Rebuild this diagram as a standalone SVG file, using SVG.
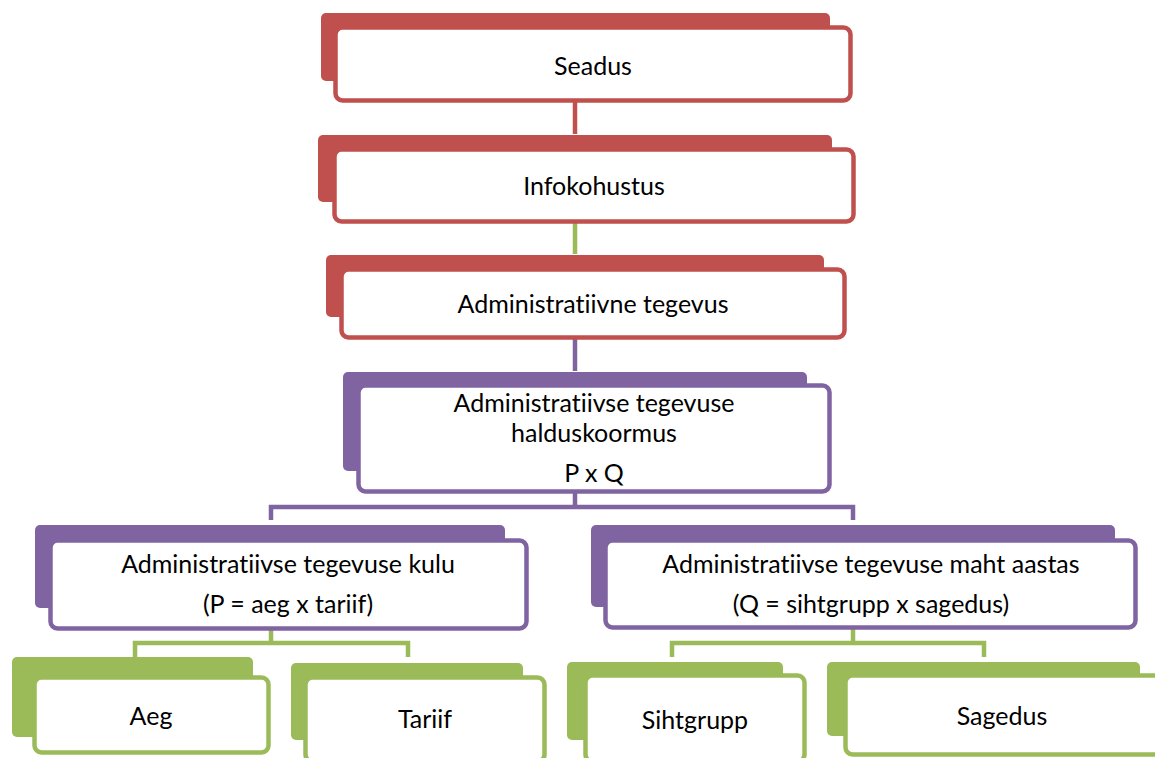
<svg xmlns="http://www.w3.org/2000/svg" width="1155" height="758" viewBox="0 0 1155 758">
<style>
  .bg { stroke: none; }
  .fr { fill: #FFFFFF; stroke-width: 4.5; }
  .red .bg { fill: #C0504D; } .red .fr { stroke: #C0504D; }
  .pur .bg { fill: #8064A2; } .pur .fr { stroke: #8064A2; }
  .grn .bg { fill: #9BBB59; } .grn .fr { stroke: #9BBB59; }
  text { font-family: Lato, "Open Sans", "Liberation Sans", sans-serif; font-size: 25px; fill: #000000; text-anchor: middle; font-variant-ligatures: none; font-feature-settings: "liga" 0, "clig" 0; }
  .c { fill: none; stroke-width: 4.5; stroke-linejoin: miter; stroke-linecap: butt; }
  .cr { stroke: #C0504D; } .cp { stroke: #8064A2; } .cg { stroke: #9BBB59; }
</style>
<rect width="1155" height="758" fill="#FFFFFF"/>
<g id="connectors">
  <path class="c cr" d="M575,102 V134"/>
  <path class="c cg" d="M575,223 V254"/>
  <path class="c cp" d="M575,339 V371"/>
  <path class="c cp" d="M575,493 V507 M271,520 V507 H853 V520"/>
  <path class="c cg" d="M271,630 V643 M135,657 V643 H408 V657"/>
  <path class="c cg" d="M853,629 V643 M672,657 V643 H984 V657"/>
</g>
<g id="node-seadus" class="red">
  <rect class="bg" x="321" y="13" width="509" height="68" rx="5"/>
  <rect class="fr" x="335.5" y="27.5" width="515" height="73" rx="7"/>
  <text x="593" y="75">Seadus</text>
</g>
<g id="node-infokohustus" class="red">
  <rect class="bg" x="318" y="135" width="514" height="67" rx="5"/>
  <rect class="fr" x="334.5" y="149.5" width="519" height="72" rx="7"/>
  <text x="594" y="195">Infokohustus</text>
</g>
<g id="node-admin-tegevus" class="red">
  <rect class="bg" x="326" y="255" width="498" height="62" rx="5"/>
  <rect class="fr" x="341.5" y="269.5" width="503" height="68" rx="7"/>
  <text x="593" y="313">Administratiivne tegevus</text>
</g>
<g id="node-halduskoormus" class="pur">
  <rect class="bg" x="343" y="372" width="464" height="99" rx="5"/>
  <rect class="fr" x="358.5" y="385.5" width="471" height="106" rx="7"/>
  <text x="594" y="412">Administratiivse tegevuse</text>
  <text x="594" y="442">halduskoormus</text>
  <text x="594" y="482">P x Q</text>
</g>
<g id="node-kulu" class="pur">
  <rect class="bg" x="35" y="525" width="470" height="83" rx="5"/>
  <rect class="fr" x="50.5" y="540.5" width="476" height="88" rx="7"/>
  <text x="288" y="573">Administratiivse tegevuse kulu</text>
  <text x="288" y="613">(P = aeg x tariif)</text>
</g>
<g id="node-maht" class="pur">
  <rect class="bg" x="591" y="525" width="524" height="82" rx="5"/>
  <rect class="fr" x="605.5" y="540.5" width="530" height="87" rx="7"/>
  <text x="871" y="573">Administratiivse tegevuse maht aastas</text>
  <text x="871" y="613">(Q = sihtgrupp x sagedus)</text>
</g>
<g id="node-aeg" class="grn">
  <rect class="bg" x="12" y="657" width="241" height="80" rx="5"/>
  <rect class="fr" x="34.5" y="677.5" width="234" height="75" rx="7"/>
  <text x="151" y="725">Aeg</text>
</g>
<g id="node-tariif" class="grn">
  <rect class="bg" x="291" y="663" width="232" height="77" rx="5"/>
  <rect class="fr" x="305.5" y="677.5" width="239" height="84" rx="7"/>
  <text x="425" y="728">Tariif</text>
</g>
<g id="node-sihtgrupp" class="grn">
  <rect class="bg" x="567" y="662" width="216" height="78" rx="5"/>
  <rect class="fr" x="585.5" y="675.5" width="219" height="86" rx="7"/>
  <text x="695" y="729">Sihtgrupp</text>
</g>
<g id="node-sagedus" class="grn">
  <rect class="bg" x="827" y="662" width="313" height="74" rx="5"/>
  <rect class="fr" x="845.5" y="675.5" width="316" height="79" rx="7"/>
  <text x="1002" y="725">Sagedus</text>
</g>
</svg>
